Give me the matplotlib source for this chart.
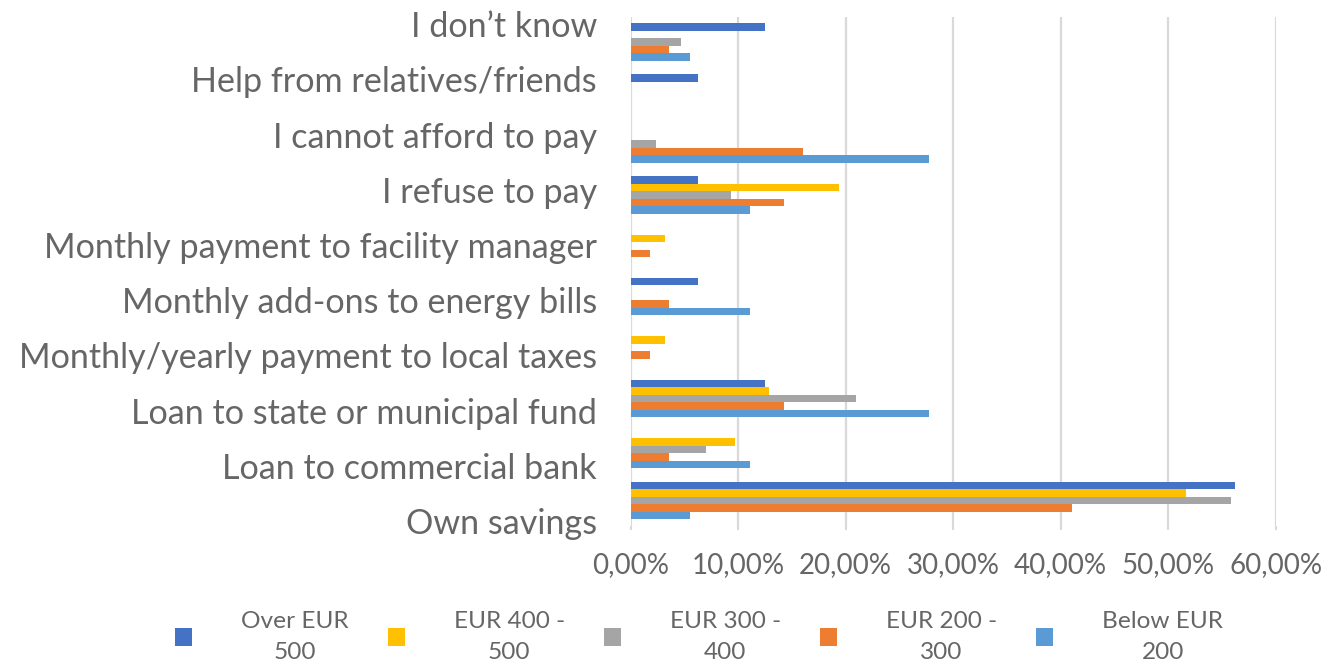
import matplotlib
matplotlib.use("Agg")
import matplotlib.pyplot as plt
from matplotlib.patches import Patch
import numpy as np

plt.rcParams['font.family'] = ['Lato', 'DejaVu Sans']

categories = [
    "Own savings",
    "Loan to commercial bank",
    "Loan to state or municipal fund",
    "Monthly/yearly payment to local taxes",
    "Monthly add-ons to energy bills",
    "Monthly payment to facility manager",
    "I refuse to pay",
    "I cannot afford to pay",
    "Help from relatives/friends",
    "I don\u2019t know",
]

series_names = ["Over EUR\n500", "EUR 400 -\n500", "EUR 300 -\n400", "EUR 200 -\n300", "Below EUR\n200"]
colors = ["#4472C4", "#FFC000", "#A5A5A5", "#ED7D31", "#5B9BD5"]

over_500 = [56.25, 0.00, 12.50, 0.00, 6.25, 0.00, 6.25, 0.00, 6.25, 12.50]
eur_400_500 = [51.61, 9.68, 12.90, 3.23, 0.00, 3.23, 19.35, 0.00, 0.00, 0.00]
eur_300_400 = [55.81, 6.98, 20.93, 0.00, 0.00, 0.00, 9.30, 2.33, 0.00, 4.65]
eur_200_300 = [41.07, 3.57, 14.29, 1.79, 3.57, 1.79, 14.29, 16.07, 0.00, 3.57]
below_200 = [5.56, 11.11, 27.78, 0.00, 11.11, 0.00, 11.11, 27.78, 0.00, 5.56]

series = [over_500, eur_400_500, eur_300_400, eur_200_300, below_200]
x_ticks = [0, 10, 20, 30, 40, 50, 60]
x_tick_labels = ["0,00%", "10,00%", "20,00%", "30,00%", "40,00%", "50,00%", "60,00%"]

W, H = 1332, 665
fig = plt.figure(figsize=(W / 100, H / 100), dpi=100)
ax = fig.add_axes([630.7 / W, 1 - 526 / H, (1275.7 - 630.7) / W, (526 - 16.5) / H])

text_color = "#666666"
grid_color = "#D9D9D9"

y = np.arange(len(categories))
h = 0.147
for k, (vals, c, name) in enumerate(zip(series, colors, series_names)):
    offset = (2 - k) * h
    ax.barh(y + offset, vals, height=h, color=c, label=name, zorder=3)

ax.set_ylim(-0.5, len(categories) - 0.5)
ax.set_xlim(0, 60)
ax.set_xticks(x_ticks)
ax.set_xticklabels(x_tick_labels, fontsize=20, color=text_color)
ax.set_yticks([])
ax.tick_params(axis='x', length=3, width=1.5, color=grid_color, pad=16)
ax.grid(axis='x', color=grid_color, linewidth=1.6, zorder=0)
for s in ax.spines.values():
    s.set_visible(False)

# category labels (placed as in the reference)
top_base, bot_base = 37.3, 534.0
step = (bot_base - top_base) / (len(categories) - 1)
for i, cat in enumerate(categories):
    yb = bot_base - step * i
    fig.text(597 / W, 1 - yb / H, cat, ha='right', va='baseline',
             fontsize=24.6, color=text_color)

handles = [Patch(facecolor=c, edgecolor='none') for c in colors]
leg = fig.legend(handles, series_names, ncol=5, loc='center',
                 bbox_to_anchor=(699 / W, 1 - 637 / H), frameon=False,
                 fontsize=17.6, handlelength=0.7, handleheight=0.7,
                 handletextpad=2.0, columnspacing=1.6)
for t in leg.get_texts():
    t.set_multialignment('center')
    t.set_linespacing(1.6)
    t.set_color(text_color)

fig.savefig("out.png", dpi=100)
